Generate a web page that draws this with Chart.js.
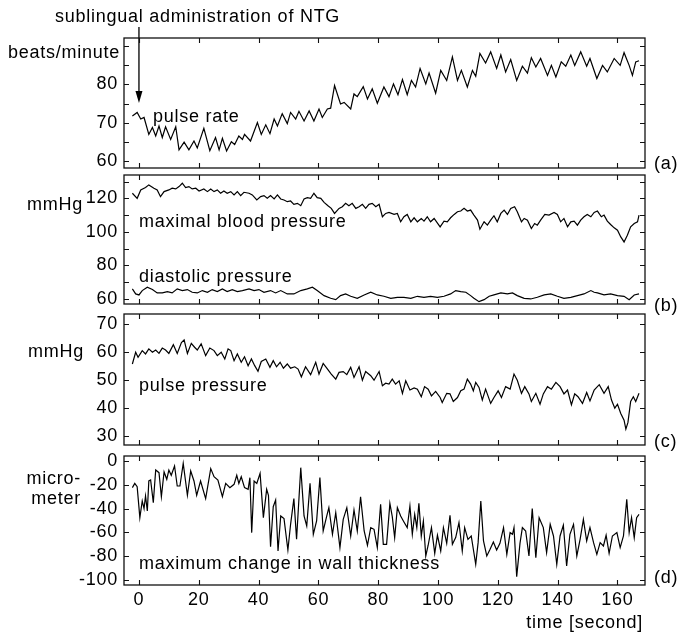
<!DOCTYPE html>
<html>
<head>
<meta charset="utf-8">
<script src="https://cdn.jsdelivr.net/npm/chart.js@4.4.1/dist/chart.umd.min.js"></script>
<style>
  html,body{margin:0;padding:0;background:#fff;}
  #wrap{position:relative;width:677px;height:632px;overflow:hidden;background:#fff;}
  #wrap canvas{position:absolute;left:0;top:0;}
</style>
</head>
<body>
<div id="wrap">
  <canvas id="cA" width="677" height="632"></canvas>
  <canvas id="cB" width="677" height="632"></canvas>
  <canvas id="cC" width="677" height="632"></canvas>
  <canvas id="cD" width="677" height="632"></canvas>
</div>
<script>
// ---------- tick labels ----------
const xTicks = [0, 20, 40, 60, 80, 100, 120, 140, 160];
const yLabelsA = [60, 70, 80];
const yLabelsB = [60, 80, 100, 120];
const yLabelsC = [30, 40, 50, 60, 70];
const yLabelsD = [-100, -80, -60, -40, -20, 0];

// ---------- (a) pulse rate [beats/minute] ----------
const prTime = [-2.2,-0.6,0.6,1.7,3.3,4.5,5.6,6.7,7.8,8.9,
  10.6,12.3,13.4,15.1,16.7,18.4,19.5,21.7,23.7,25.6,
  26.8,27.9,29.3,30.9,32.0,33.4,34.6,35.3,37.3,39.6,
  40.9,42.4,43.8,45.2,46.3,47.9,49.6,50.7,52.4,53.5,
  55.2,56.9,58.5,60.2,61.3,63.0,64.1,65.4,67.4,68.6,
  70.8,71.9,73.0,75.0,76.4,78.0,79.7,81.9,83.6,85.1,
  86.6,88.1,89.7,91.1,92.5,94.0,95.9,97.0,99.2,100.9,
  102.9,104.8,106.5,107.8,109.8,111.5,112.6,114.0,115.9,117.6,
  119.6,121.0,122.6,124.3,126.3,128.2,129.9,131.2,132.7,134.3,
  136.6,137.9,139.4,141.2,142.7,144.4,145.7,147.7,149.7,150.8,
  153.1,155.0,156.6,158.9,160.9,162.2,163.9,165.0,166.1,167.2];
const prVal = [71.8,72.7,71.0,71.4,67.0,68.8,66.6,69.2,66.2,69.0,
  65.7,69.0,63.0,65.0,63.0,65.3,63.5,68.6,62.8,66.2,
  63.0,66.0,62.7,65.1,64.4,66.6,65.7,67.0,65.3,70.1,
  67.0,69.5,67.2,71.0,69.2,72.4,69.8,72.7,71.0,73.0,
  70.5,73.1,70.5,73.6,71.4,73.6,73.8,79.7,74.9,75.3,
  73.6,77.5,76.8,79.4,76.2,78.8,75.1,79.3,76.8,80.1,
  77.3,81.2,77.3,81.0,79.3,84.1,80.1,82.9,77.7,83.6,
  81.0,87.1,81.0,83.6,79.3,83.6,82.1,88.0,85.5,88.4,
  84.1,87.6,83.2,86.4,81.0,84.7,82.9,86.9,84.5,86.7,
  82.3,84.9,81.9,85.8,84.7,87.6,84.9,88.4,84.7,86.7,
  81.5,84.9,83.2,86.7,84.9,88.2,84.9,82.3,85.8,86.1];

// ---------- (b) maximal blood pressure [mmHg] ----------
const sbpTime = [-2.2,-0.6,0.6,2.2,3.3,5.0,6.1,7.2,8.4,10.0,
  11.1,12.3,13.4,14.5,15.6,16.7,17.8,19.0,20.1,21.7,
  22.9,24.0,25.1,26.2,27.3,28.4,29.5,30.7,31.8,32.9,
  34.0,35.1,36.8,37.9,39.4,40.7,41.8,42.9,44.0,45.2,
  46.3,47.4,48.5,49.6,50.7,51.8,53.0,54.1,55.2,56.3,
  57.4,58.5,59.6,60.8,61.9,63.2,64.3,65.4,66.9,68.0,
  69.1,70.2,71.3,72.5,73.6,74.7,75.8,76.9,78.0,79.2,
  80.3,81.4,82.5,83.6,85.3,86.4,87.5,88.6,89.7,90.9,
  92.0,93.1,94.4,95.3,96.4,97.5,98.7,100.7,102.0,103.1,
  104.2,105.4,106.5,107.6,108.7,109.8,110.9,112.0,113.2,114.0,
  115.4,116.5,117.6,118.7,119.8,121.0,122.1,123.2,124.3,125.6,
  126.5,127.9,128.8,129.9,131.2,132.3,133.2,134.3,135.7,137.1,
  138.8,139.9,141.0,142.1,143.3,144.4,145.5,146.6,147.7,148.8,
  149.9,151.1,152.2,153.3,154.6,155.5,156.6,157.7,158.9,160.0,
  161.1,162.2,163.3,164.4,165.6,166.7,167.2];
const sbpVal = [123,120,125,126.4,128,126,125,121,124,125,
  126,125.6,127,129,126.4,127,125.6,126,124.4,125.6,
  124,125.6,124,125,123,124.4,123,124,122,124,
  121.6,123.6,123,122,119,121,121.6,120,121.6,119.6,
  122,119.6,119,118,118.4,116.4,117,115.6,119.6,120.4,
  120,123,120.4,120,117.6,115.6,114,111,114,115,
  117,115.6,117,114,115,116.4,114,116.4,117,115,
  116.4,109,111,111.6,110.4,111,106,109,110.4,106,
  108.4,106,108,106.4,109,106,108,103,106.4,106,
  108.4,110.4,112,112.4,114,112.4,113,110,107,101.6,
  106,104,107,109.6,106,111,113,110.4,114,115,
  112,106,108,107,102,105,104,107,110.4,110,
  111.6,110.4,106,108,103,106,106.4,104,107,109,
  110.4,109,111.6,112.4,109,110,106.4,104.4,102.4,101,
  97,94,98,103,105,106,110];

// ---------- (b) diastolic pressure [mmHg] ----------
const dbpTime = [-2.2,-1.1,0,1.1,2.8,4.5,6.1,7.8,9.5,11.1,
  12.8,14.5,16.2,17.8,19.5,21.2,22.9,24.5,26.2,27.9,
  29.5,31.2,32.9,34.6,36.8,38.5,40.1,41.8,44.0,45.7,
  47.4,49.6,51.8,54.1,56.3,58.0,59.6,61.9,64.1,65.8,
  67.4,69.1,70.8,73.0,75.3,77.5,79.7,81.9,84.2,86.4,
  88.6,90.9,93.1,95.3,97.5,99.8,102.0,104.2,105.9,107.6,
  109.3,110.9,112.0,113.7,115.4,117.1,118.7,121.0,123.2,124.9,
  126.5,128.8,131.0,133.2,135.5,137.7,139.9,142.1,144.4,146.6,
  148.8,151.1,152.2,153.3,155.5,157.7,160.0,162.2,163.9,165.6,
  167.2];
const dbpVal = [66,63,62.4,65,67,65.6,63.6,63.6,64.4,63.6,
  66,65,65.6,64,63.6,65,64,65.6,64.4,66,
  64.4,65.6,64.4,65,66,65,65.6,64,65,63.6,
  65,63,63,65,66,67,65,62,60.4,59.6,
  62,63,61.6,60.4,62.4,64,62.4,61.6,60.4,61,
  61,60.4,61.6,61,61.6,61,61.6,63,65,64.4,
  64,62,60.4,58.4,59.6,61.6,62.4,63.6,63,63.6,
  62,60.4,60,61,62.4,63,61.6,60.4,61,62,
  63,65,64,63.6,62.4,63,62,61.6,59.6,62.4,
  63];

// ---------- (c) pulse pressure [mmHg] ----------
const ppTime = [-2.2,-1.1,-0.3,1.1,2.2,3.3,4.5,5.6,6.7,7.8,
  8.9,10.0,11.5,12.8,14.2,15.1,16.2,17.5,18.6,19.5,
  20.8,22.3,23.7,25.1,26.2,27.5,28.7,29.8,30.7,31.8,
  32.9,34.2,35.3,36.5,37.6,38.7,39.8,40.9,42.4,43.8,
  44.9,46.0,47.2,48.3,49.6,50.7,52.1,53.2,54.3,55.7,
  57.4,59.1,60.2,61.6,62.8,64.3,65.8,66.9,68.3,69.5,
  70.8,71.9,73.6,74.7,75.8,77.5,78.6,80.3,81.4,82.5,
  83.6,84.7,85.8,87.0,88.1,89.2,90.6,92.0,93.1,94.4,
  95.5,96.7,97.8,99.2,100.7,101.4,102.9,104.0,105.1,106.5,
  107.6,108.7,109.8,110.9,111.8,112.6,113.7,114.8,115.9,117.6,
  118.7,120.1,121.2,122.6,124.1,125.4,126.5,127.9,129.0,130.4,
  131.2,132.7,134.1,135.2,136.6,137.9,139.4,140.8,142.1,143.3,
  144.6,145.7,146.8,148.3,149.7,150.8,152.2,153.9,155.5,156.9,
  158.0,159.1,160.0,161.1,162.2,162.8,163.5,164.4,165.3,166.1,
  167.2];
const ppVal = [55.8,60,58.2,60.6,59.4,61.2,60,60.8,59.6,61.5,
  60.8,59.6,62.7,59.6,63.5,64.4,59.6,63.2,61.8,60.8,
  63,58.8,61.5,60.6,58.8,60,57.6,61.2,60.6,57,
  59.4,56.4,58.4,55.2,57.6,55.2,53.2,56.7,57.6,54.6,
  57,54.8,56.4,54.3,55.8,54.3,54.8,54,51.2,54.8,
  52,56.4,52.2,56,54.3,52.2,50.4,52.8,53.1,52,
  54.6,51,54.8,50,53.1,51.6,50,53.1,48,48.9,
  48.6,50.4,48.6,49.8,45.3,49.8,46.5,47.2,46.8,44.1,
  47.7,46.8,44.4,46,43.8,42,45.3,45.1,42.4,43.8,
  46.2,46.8,50.4,48.6,46.2,49.2,47.4,42.9,46.8,41.7,
  43.8,46.2,43.8,47.7,46.8,52.2,50,45.3,47.7,45.1,
  42.4,45.3,41.4,45.1,47.7,46.8,49.2,47.7,45.1,46.5,
  41.2,45.1,44.1,41.7,45.6,42.6,46.5,48.4,45.3,47.7,
  42.9,40,41.4,38.1,35.7,32.5,34.9,42.4,44.1,42.4,
  45.3];

// ---------- (d) maximum change in wall thickness [micrometer] ----------
const wtTime = [-2.2,-1.4,-0.6,0.3,1.1,1.7,2.2,2.8,3.3,3.9,
  4.8,5.6,6.7,7.5,8.4,9.3,10.0,10.8,11.9,12.8,
  13.7,14.8,16.2,17.3,18.4,19.3,20.6,22.3,24.0,25.1,
  26.4,27.9,29.0,30.4,31.8,32.7,33.4,34.2,35.3,36.5,
  37.1,37.7,38.5,39.4,40.5,41.6,42.7,43.3,44.0,44.9,
  45.7,46.5,47.4,48.5,49.8,50.7,51.8,52.7,54.1,55.2,
  56.1,57.2,58.3,59.4,60.5,61.6,62.8,63.5,64.7,65.8,
  67.2,68.3,69.5,70.8,71.9,73.0,74.1,75.3,76.4,77.5,
  78.6,79.7,80.8,81.7,82.8,83.9,84.7,85.5,86.4,87.5,
  88.6,89.7,90.6,91.4,92.2,92.9,93.6,94.4,95.1,95.9,
  96.7,97.8,98.9,99.8,100.9,101.8,102.9,104.0,104.8,105.9,
  107.0,108.1,108.9,110.0,111.1,112.6,113.4,114.3,115.2,116.3,
  117.4,118.5,119.6,120.7,121.9,123.0,124.1,124.9,125.4,126.3,
  127.4,128.2,129.3,130.4,131.5,132.7,133.8,135.2,136.3,137.5,
  138.6,139.7,140.8,141.9,143.0,144.1,145.3,146.4,147.5,148.6,
  149.7,150.8,152.0,153.1,154.2,155.3,156.2,157.2,158.3,159.8,
  160.9,162.0,163.1,163.9,164.7,165.6,166.4,167.2];
const wtVal = [-22.4,-18.8,-21.6,-47.6,-33.6,-40,-29.4,-42,-16.8,-16,
  -35,-7.6,-9.8,-30,-9.2,-15.4,-7.6,-12,-4.2,-21,
  -21,-2,-28.8,-8.4,-16.8,-28.8,-16.8,-31.6,-6.4,-13.2,
  -16,-30,-18.8,-22.4,-19.6,-12,-18.8,-13.2,-22.4,-23.8,
  -14,-60.2,-16.8,-18.8,-10.4,-47.6,-23.8,-28.8,-72,-38.4,
  -32.8,-75.6,-46.2,-48.4,-74.8,-53.2,-31.6,-65.8,-5.6,-46.2,
  -54.6,-18.8,-61.6,-50.4,-14,-58.8,-46.2,-39.2,-61.6,-43.4,
  -72.8,-49,-39.2,-63,-41.2,-58.8,-30,-58.8,-70.8,-56,
  -57.4,-72.8,-36.4,-70,-70,-35.6,-46.8,-64.4,-39.2,-46.2,
  -51.2,-56,-37.8,-61.6,-44.8,-56,-35.6,-63,-50.4,-79.8,
  -70.8,-56,-77.6,-62.4,-75.6,-56,-69.2,-45.6,-70,-64.4,
  -51.8,-75.6,-56,-65.8,-63,-86.8,-68.6,-33.6,-67.2,-79.8,
  -74.2,-68,-74.8,-69.2,-56,-78.4,-60.2,-61.6,-56,-97.2,
  -69.2,-56,-58.8,-79.8,-40,-81.2,-47.6,-56,-77,-53.2,
  -63,-86.8,-63,-54,-88.2,-61.6,-53.2,-79.8,-65.8,-49,
  -67.2,-56,-68.6,-78.4,-68.6,-71.4,-62.4,-77.6,-63,-60.2,
  -72.8,-63,-32.2,-60.2,-47.6,-64.4,-47.6,-44.8];

// ---------- drawing ----------
const FONT = '"Liberation Sans", Arial, Helvetica, sans-serif';
const FONT_SIZE = 18;
const SPACING = '0.75px';
Chart.defaults.font.family = FONT;
Chart.defaults.font.size = FONT_SIZE;
Chart.defaults.color = '#000';

const framePlugin = {
  id: 'frame',
  beforeDraw(chart) { chart.ctx.letterSpacing = SPACING; },
  afterDraw(chart, args, opts) {
    const ctx = chart.ctx, a = chart.chartArea, xs = chart.scales.x, ys = chart.scales.y;
    ctx.save();
    ctx.strokeStyle = '#111';
    ctx.lineWidth = 1.3;
    ctx.strokeRect(a.left, a.top, a.right - a.left, a.bottom - a.top);
    ctx.lineWidth = 1.1;
    ctx.beginPath();
    ys.ticks.forEach(t => {
      const y = Math.round(ys.getPixelForValue(t.value)) + 0.5;
      ctx.moveTo(a.left, y); ctx.lineTo(a.left + 5, y);
      ctx.moveTo(a.right, y); ctx.lineTo(a.right - 5, y);
    });
    xTicks.forEach(v => {
      const x = Math.round(xs.getPixelForValue(v)) + 0.5;
      ctx.moveTo(x, a.top); ctx.lineTo(x, a.top + 5);
      ctx.moveTo(x, a.bottom); ctx.lineTo(x, a.bottom - 5);
    });
    ctx.stroke();

    ctx.fillStyle = '#000';
    ctx.font = FONT_SIZE + 'px ' + FONT;
    ctx.letterSpacing = SPACING;
    ctx.textBaseline = 'alphabetic';
    (opts.texts || []).forEach(tx => {
      ctx.textAlign = tx.align || 'left';
      ctx.fillText(tx.text, tx.x, tx.y);
    });

    if (opts.arrow) {
      const x = xs.getPixelForValue(opts.arrow.at);
      ctx.lineWidth = 1.4;
      ctx.beginPath();
      ctx.moveTo(x, opts.arrow.y0);
      ctx.lineTo(x, opts.arrow.y1 - 8);
      ctx.stroke();
      ctx.beginPath();
      ctx.moveTo(x - 3.5, opts.arrow.y1 - 12);
      ctx.lineTo(x + 3.5, opts.arrow.y1 - 12);
      ctx.lineTo(x, opts.arrow.y1);
      ctx.closePath();
      ctx.fill();
    }
    ctx.restore();
  }
};

function makePanel(id, cfg) {
  const datasets = cfg.series.map(s => ({
    data: s.t.map((t, i) => ({ x: t, y: s.v[i] })),
    borderColor: '#000',
    borderWidth: 1.2,
    pointRadius: 0,
    tension: 0,
    fill: false
  }));
  return new Chart(document.getElementById(id), {
    type: 'line',
    data: { datasets },
    options: {
      responsive: false,
      animation: false,
      events: [],
      layout: { padding: { top: cfg.top, bottom: cfg.padBottom, left: 0, right: 32 } },
      plugins: {
        legend: { display: false },
        tooltip: { enabled: false },
        frame: { texts: cfg.texts, arrow: cfg.arrow }
      },
      scales: {
        x: {
          type: 'linear', min: -5, max: 169.2, display: cfg.showX,
          ticks: { stepSize: 20, includeBounds: false, autoSkip: false, maxRotation: 0, padding: 4,
                   callback: v => xTicks.includes(v) ? String(v) : '' },
          grid: { display: false, drawTicks: false },
          border: { display: false },
          afterFit: s => { s.height = cfg.xHeight || 0; }
        },
        y: {
          type: 'linear', min: cfg.ymin, max: cfg.ymax,
          ticks: { stepSize: cfg.step, includeBounds: false, autoSkip: false, padding: 6,
                   callback: v => cfg.labels.includes(v) ? String(v) : '' },
          grid: { display: false, drawTicks: false },
          border: { display: false },
          afterFit: s => { s.width = 124; }
        }
      }
    },
    plugins: [framePlugin]
  });
}

makePanel('cA', {
  series: [{ t: prTime, v: prVal }],
  top: 38, padBottom: 632 - 168, showX: false,
  ymin: 58.3, ymax: 92, step: 5, labels: yLabelsA,
  texts: [
    { text: 'sublingual administration of NTG', x: 55, y: 22 },
    { text: 'beats/minute', x: 120, y: 58, align: 'right' },
    { text: 'pulse rate', x: 153, y: 122 },
    { text: '(a)', x: 654, y: 169 }
  ],
  arrow: { at: 0, y0: 27, y1: 103 }
});

makePanel('cB', {
  series: [{ t: sbpTime, v: sbpVal }, { t: dbpTime, v: dbpVal }],
  top: 175, padBottom: 632 - 304, showX: false,
  ymin: 57.0, ymax: 133.9, step: 10, labels: yLabelsB,
  texts: [
    { text: 'mmHg', x: 27, y: 210 },
    { text: 'maximal blood pressure', x: 139, y: 227 },
    { text: 'diastolic pressure', x: 139, y: 282 },
    { text: '(b)', x: 654, y: 311 }
  ]
});

makePanel('cC', {
  series: [{ t: ppTime, v: ppVal }],
  top: 314, padBottom: 632 - 445, showX: false,
  ymin: 26.8, ymax: 73.7, step: 10, labels: yLabelsC,
  texts: [
    { text: 'mmHg', x: 28, y: 357 },
    { text: 'pulse pressure', x: 139, y: 391 },
    { text: '(c)', x: 654, y: 447 }
  ]
});

makePanel('cD', {
  series: [{ t: wtTime, v: wtVal }],
  top: 456, padBottom: 0, showX: true, xHeight: 632 - 585,
  ymin: -104.2, ymax: 4.2, step: 20, labels: yLabelsD,
  texts: [
    { text: 'micro-', x: 81, y: 484, align: 'right' },
    { text: 'meter', x: 81, y: 504, align: 'right' },
    { text: 'maximum change in wall thickness', x: 139, y: 569 },
    { text: '(d)', x: 654, y: 583 },
    { text: 'time [second]', x: 643, y: 628, align: 'right' }
  ]
});
</script>
</body>
</html>
